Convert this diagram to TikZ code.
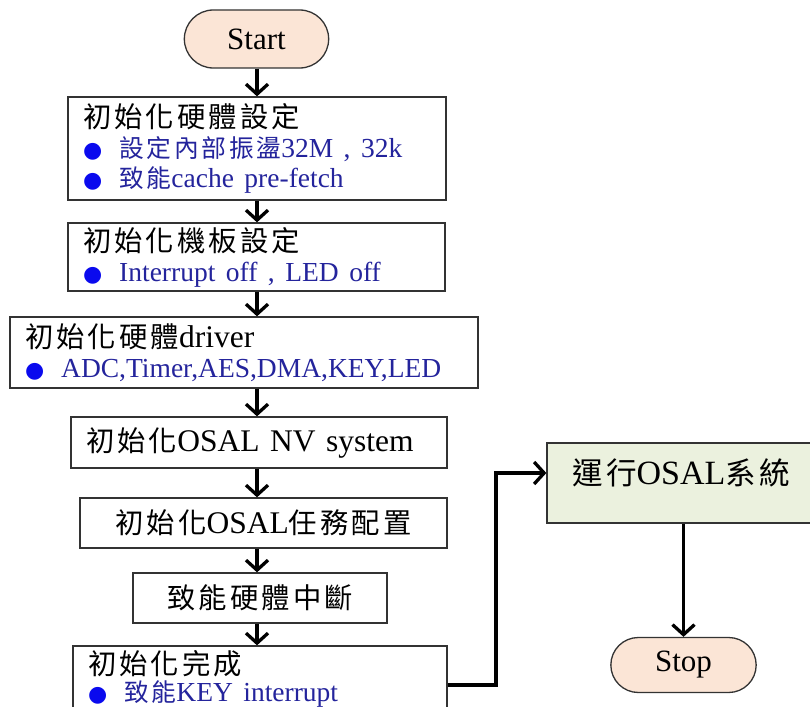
\documentclass[tikz,border=0pt]{standalone}
\usepackage{fontspec}
\setmainfont{Liberation Serif}
\newfontfamily\cjk[Scale=0.9,LetterSpace=11]{Noto Sans CJK TC}
\newfontfamily\dejavu{DejaVu Sans}
\usetikzlibrary{shapes.misc,arrows.meta}
\definecolor{peach}{HTML}{FBE5D6}
\definecolor{palegreen}{HTML}{EBF1DE}
\definecolor{dotblue}{HTML}{0A0AEE}
\definecolor{itemblue}{HTML}{24249C}
\lineskiplimit=-100pt
\newcommand{\itm}[1]{{\color{dotblue}\dejavu\fontsize{22}{22}\selectfont ●}\hspace{17pt}{\color{itemblue}\fontsize{27.5}{29}\selectfont #1}}

\tikzset{box/.style={rectangle, draw=black!80, line width=1.3pt, inner xsep=15pt, align=left,
    font=\fontsize{31.5}{30}\selectfont},
  term/.style={rounded rectangle, draw=black!80, line width=1.3pt, fill=peach,
    font=\fontsize{31}{31}\selectfont},
  arr/.style={line width=3.6pt, -{Straight Barb[length=10pt,width=22pt,line width=3.3pt]}}}

\begin{document}
\begin{tikzpicture}[x=1pt,y=-1pt]
		\useasboundingbox (0,0) rectangle (810,706);
		\clip (0,0) rectangle (810,706);
		\coordinate (axis) at (257,0);

		\node[term, minimum width=151pt, minimum height=58pt] (start) at (256.5,39) {Start};
		\node[box, text width=348pt, minimum height=103pt] (hw) at (257,148.5)
			{{\cjk 初始化硬體設定}\\ \itm{{\cjk 設定內部振盪}32M , 32k}\\ \itm{{\cjk 致能}cache pre-fetch}};
		\node[box, text width=347pt, minimum height=68pt] (board) at (256.5,257)
			{{\cjk 初始化機板設定}\\ \itm{Interrupt off , LED off}};
		\node[box, text width=438pt, minimum height=71pt] (drv) at (244,352.5)
			{{\cjk 初始化硬體}driver\\ \itm{ADC,Timer,AES,DMA,KEY,LED}};
		\node[box, text width=346pt, minimum height=51pt] (nv) at (259,442.5)
			{{\cjk 初始化}OSAL NV system};
		\node[box, align=center, text width=337pt, minimum height=50pt] (task) at (263.5,523)
			{{\cjk 初始化}OSAL{\cjk 任務配置}};
		\node[box, align=center, text width=224pt, minimum height=50pt] (irq) at (260,598)
			{{\cjk 致能硬體中斷}};
		\node[box, text width=344pt, minimum height=66pt,
			font=\fontsize{31.5}{27}\selectfont] (done) at (260,679)
			{{\cjk 初始化完成}\\ \itm{{\cjk 致能}KEY interrupt}};

		\node[box, fill=palegreen, align=center, text width=238pt, minimum height=80pt,
			text height=30pt, text depth=28pt,
			font=\fontsize{34}{34}\selectfont] (run) at (681,483) {{\cjk 運行}OSAL{\cjk 系統}};
		\node[term, minimum width=152pt, minimum height=55pt] (stop) at (683.5,665) {Stop};

		\draw[arr] (axis |- start.south) -- (axis |- hw.north);
		\draw[arr] (axis |- hw.south) -- (axis |- board.north);
		\draw[arr] (axis |- board.south) -- (axis |- drv.north);
		\draw[arr] (axis |- drv.south) -- (axis |- nv.north);
		\draw[arr] (axis |- nv.south) -- (axis |- task.north);
		\draw[arr] (axis |- task.south) -- (axis |- irq.north);
		\draw[arr] (axis |- irq.south) -- (axis |- done.north);

		\coordinate (bend) at (496,685);
		\draw[arr] (bend -| done.east) -- (bend) |- ([yshift=10pt]run.west);
		\draw[arr] (stop.north |- run.south) -- (stop.north);
	\end{tikzpicture}
\end{document}
